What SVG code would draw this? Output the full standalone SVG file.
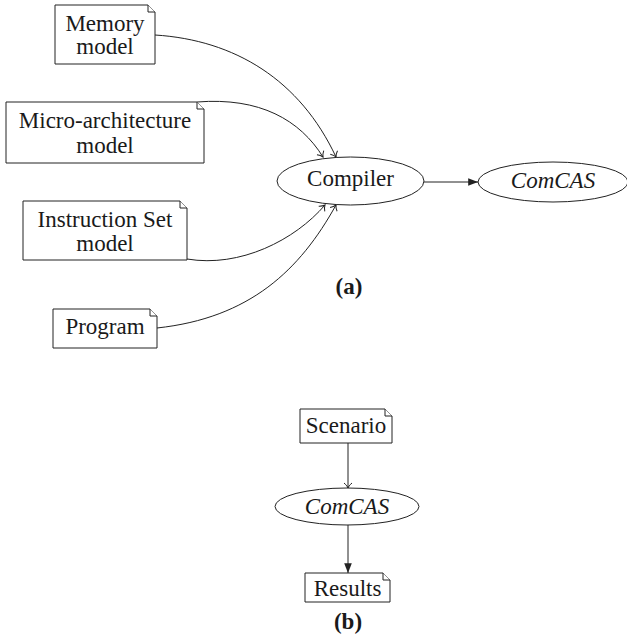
<svg xmlns="http://www.w3.org/2000/svg" width="627" height="644" viewBox="0 0 627 644">
<style>
text{font-family:"Liberation Serif","Times New Roman",serif;font-size:23px;fill:#1a1a1a;text-anchor:middle}
.it{font-style:italic}
.b{font-weight:bold}
.box{fill:#fff;stroke:#222;stroke-width:1}
.fold{fill:#fff;stroke:#222;stroke-width:1}
.ell{fill:#fff;stroke:#222;stroke-width:1}
.edge{fill:none;stroke:#222;stroke-width:1}
</style>
<defs>
<marker id="to" markerUnits="userSpaceOnUse" markerWidth="12" markerHeight="12" refX="0" refY="0" viewBox="-7 -6 8 12" orient="auto" overflow="visible">
<path d="M-5,-4 C-3,-1.5 -1,-0.4 0,0 C-1,0.4 -3,1.5 -5,4" fill="none" stroke="#222" stroke-width="1"/>
</marker>
<marker id="tri" markerUnits="userSpaceOnUse" markerWidth="12" markerHeight="12" refX="0" refY="0" viewBox="-10 -5 11 10" orient="auto" overflow="visible">
<path d="M-9,-3.5 L0,0 L-9,3.5 Z" fill="#222"/>
</marker>
</defs>
<g id="connectors">
<path class="edge" d="M155,35 C235,40 300,80 336,157" marker-end="url(#to)"/>
<path class="edge" d="M197,102 C260,97 300,120 323,157" marker-end="url(#to)"/>
<path class="edge" d="M187,259 C240,268 295,240 325,205" marker-end="url(#to)"/>
<path class="edge" d="M157,328 C250,318 300,270 336,205" marker-end="url(#to)"/>
<path class="edge" d="M424,182 L478,182" marker-end="url(#tri)"/>
<path class="edge" d="M348,443 L348,488" marker-end="url(#to)"/>
<path class="edge" d="M348,525 L348,573" marker-end="url(#tri)"/>
</g>
<g id="memory">
<path class="box" d="M55,5 H148 L155,12 V64 H55 Z"/>
<path class="fold" d="M148,5 V12 H155"/>
<text x="105" y="31">Memory</text>
<text x="105" y="54">model</text>
</g>
<g id="micro">
<path class="box" d="M6,102 H197 L204,109 V163 H6 Z"/>
<path class="fold" d="M197,102 V109 H204"/>
<text x="105" y="128">Micro-architecture</text>
<text x="105" y="153">model</text>
</g>
<g id="isa">
<path class="box" d="M23,201 H180 L187,208 V260 H23 Z"/>
<path class="fold" d="M180,201 V208 H187"/>
<text x="105" y="227">Instruction Set</text>
<text x="105" y="251">model</text>
</g>
<g id="program">
<path class="box" d="M53,309 H150 L157,316 V348 H53 Z"/>
<path class="fold" d="M150,309 V316 H157"/>
<text x="105" y="334">Program</text>
</g>
<g id="compiler">
<ellipse class="ell" cx="350.5" cy="181" rx="73.5" ry="24"/>
<text x="350.5" y="186">Compiler</text>
</g>
<g id="comcas-a">
<ellipse class="ell" cx="553" cy="182" rx="75" ry="20"/>
<text class="it" x="553" y="188">ComCAS</text>
</g>
<g id="label-a">
<text class="b" x="349" y="294">(a)</text>
</g>
<g id="scenario">
<path class="box" d="M300,409 H385 L392,416 V443 H300 Z"/>
<path class="fold" d="M385,409 V416 H392"/>
<text x="346" y="433">Scenario</text>
</g>
<g id="comcas-b">
<ellipse class="ell" cx="347" cy="506.5" rx="72" ry="18.5"/>
<text class="it" x="347" y="514">ComCAS</text>
</g>
<g id="results">
<path class="box" d="M305,573 H383 L390,580 V602 H305 Z"/>
<path class="fold" d="M383,573 V580 H390"/>
<text x="347.5" y="596">Results</text>
</g>
<g id="label-b">
<text class="b" x="348" y="629">(b)</text>
</g>
</svg>
